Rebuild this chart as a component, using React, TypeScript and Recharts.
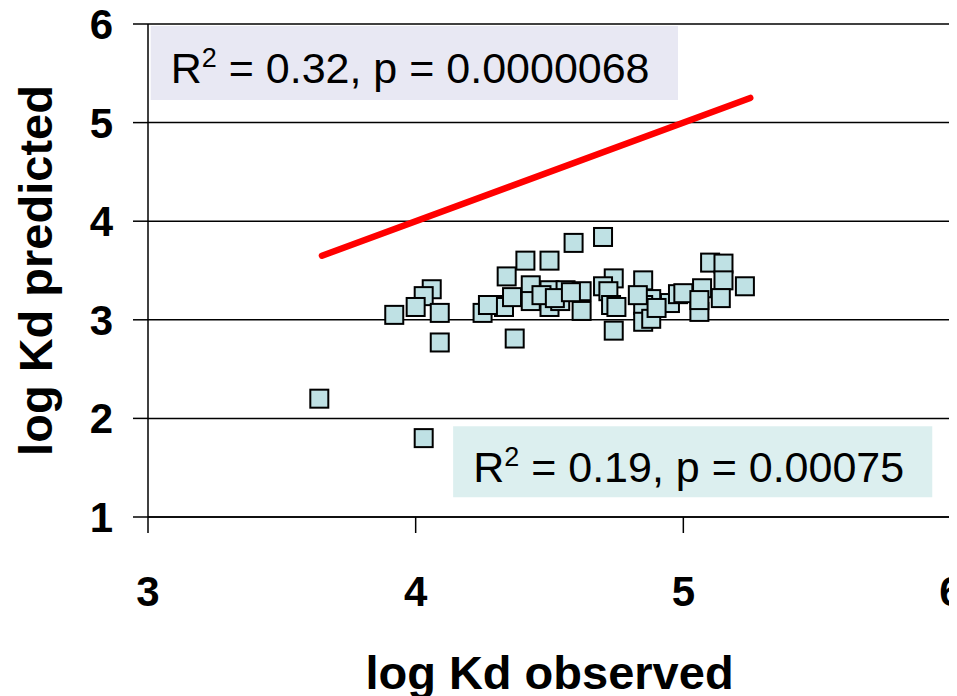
import {
  ScatterChart,
  Scatter,
  XAxis,
  YAxis,
  CartesianGrid,
  ReferenceLine,
  ReferenceArea,
  Label,
} from "recharts";

const observed = [
  3.64, 4.03, 3.92, 4.06, 4.03, 4.0, 4.09, 4.09, 4.25, 4.3,
  4.33, 4.34, 4.36, 4.37, 4.41, 4.43, 4.43, 4.5, 4.5, 4.5,
  4.54, 4.56, 4.59, 4.62, 4.62, 4.7, 4.74, 4.7, 4.72, 4.73,
  4.75, 4.74, 4.85, 4.88, 4.85, 4.85, 4.88, 4.95, 4.98, 4.83,
  4.9, 5.1, 5.15, 5.15, 5.23, 5.07, 5.14, 5.06, 5.0, 5.06,
  4.47, 4.52, 4.58, 4.27,
];
const predicted = [
  2.2, 1.8, 3.05, 3.31, 3.24, 3.13, 3.07, 2.77, 3.07, 3.15,
  3.13, 3.44, 3.23, 2.81, 3.6, 3.35, 3.19, 3.6, 3.3, 3.13,
  3.19, 3.3, 3.78, 3.29, 3.09, 3.84, 3.42, 3.34, 3.29, 3.15,
  3.13, 2.89, 3.4, 3.21, 3.15, 2.98, 3.01, 3.17, 3.26, 3.25,
  3.12, 3.58, 3.57, 3.4, 3.34, 3.32, 3.22, 3.08, 3.27, 3.2,
  3.25, 3.22, 3.28, 3.15,
];

const xTicks = [3, 4, 5, 6];
const yTicks = [1, 2, 3, 4, 5, 6];
const identityRange = [3.65, 5.25];

const stats = [
  { r2: "0.32", p: "0.0000068" },
  { r2: "0.19", p: "0.00075" },
];

const points = observed.map((x, i) => ({ x, y: predicted[i] }));

const FONT = "'Liberation Sans', Arial, sans-serif";

function Square({ cx, cy }: { cx?: number; cy?: number }) {
  if (cx == null || cy == null) return null;
  return (
    <rect
      x={cx - 9}
      y={cy - 9}
      width={18}
      height={18}
      fill="#bfe1e4"
      stroke="#000"
      strokeWidth={2}
    />
  );
}

function statLabel(s: { r2: string; p: string }, dx: number, dy: number) {
  return (props: any) => {
    const vb = props.viewBox || {};
    return (
      <text
        x={vb.x + dx}
        y={vb.y + dy}
        fontFamily={FONT}
        fontSize={43}
        fill="#000"
      >
        R
        <tspan dy={-16} fontSize={27}>2</tspan>
        <tspan dy={16}>{` = ${s.r2}, p = ${s.p}`}</tspan>
      </text>
    );
  };
}

export default function App() {
  return (
    <ScatterChart
      width={949}
      height={688}
      margin={{ top: 16, right: 6, bottom: 0, left: 0 }}
      style={{ fontFamily: FONT }}
    >
      <CartesianGrid
        vertical={false}
        stroke="#000"
        strokeWidth={1.5}
      />
      <XAxis
        type="number"
        dataKey="x"
        domain={[3, 6]}
        ticks={xTicks}
        interval={0}
        height={179}
        tickSize={16}
        tickMargin={43}
        stroke="#000"
        strokeWidth={1.5}
        tick={{ fill: "#000", fontSize: 42, fontWeight: 700 }}
      >
        <Label
          content={(props: any) => {
            const vb = props.viewBox || {};
            return (
              <text
                x={vb.x + vb.width / 2}
                y={681}
                textAnchor="middle"
                fontFamily={FONT}
                fontSize={47}
                fontWeight={700}
                fill="#000"
              >
                log Kd observed
              </text>
            );
          }}
        />
      </XAxis>
      <YAxis
        type="number"
        dataKey="y"
        domain={[1, 6]}
        ticks={yTicks}
        interval={0}
        width={140}
        tickSize={15}
        tickMargin={20}
        stroke="#000"
        strokeWidth={1.5}
        tick={{ fill: "#000", fontSize: 42, fontWeight: 700 }}
      >
        <Label
          content={(props: any) => {
            const vb = props.viewBox || {};
            const cy = vb.y + vb.height / 2;
            return (
              <text
                x={27}
                y={cy}
                textAnchor="middle"
                dominantBaseline="central"
                transform={`rotate(-90, 27, ${cy})`}
                fontFamily={FONT}
                fontSize={47}
                fontWeight={700}
                fill="#000"
              >
                log Kd predicted
              </text>
            );
          }}
        />
      </YAxis>
      <ReferenceLine x={6} stroke="#000" strokeWidth={1.5} />
      <ReferenceArea
        x1={3.01}
        x2={4.98}
        y1={5.23}
        y2={5.98}
        fill="#e8e8f3"
        fillOpacity={1}
        stroke="none"
        label={statLabel(stats[0], 20, 57)}
      />
      <ReferenceArea
        x1={4.14}
        x2={5.93}
        y1={1.2}
        y2={1.92}
        fill="#dcefef"
        fillOpacity={1}
        stroke="none"
        label={statLabel(stats[1], 20, 56)}
      />
      <ReferenceLine
        segment={[
          { x: identityRange[0], y: identityRange[0] },
          { x: identityRange[1], y: identityRange[1] },
        ]}
        stroke="#ff0000"
        strokeWidth={6.5}
        strokeLinecap="round"
      />
      <Scatter
        data={points}
        shape={<Square />}
        isAnimationActive={false}
      />
    </ScatterChart>
  );
}
